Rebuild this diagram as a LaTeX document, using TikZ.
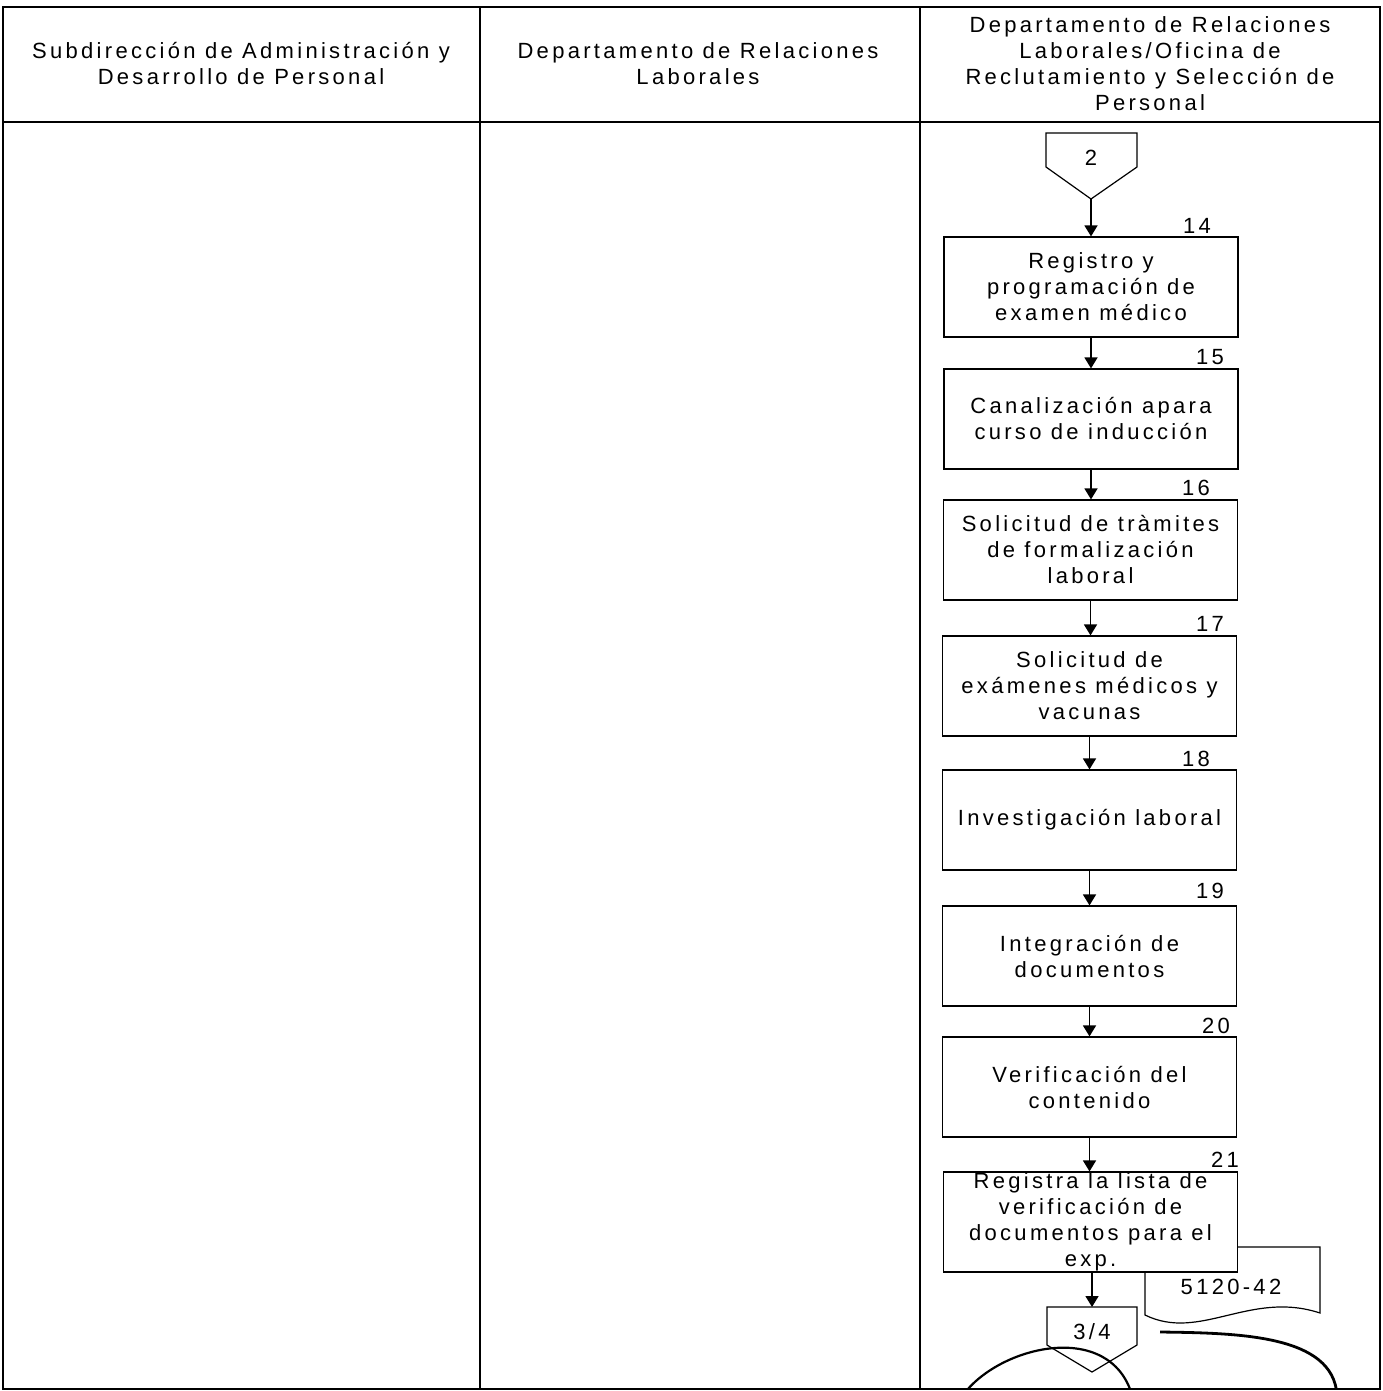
\documentclass[tikz,border=0pt]{standalone}
\usepackage{fontspec}
\setmainfont{Liberation Sans}[LetterSpace=15]
\usetikzlibrary{arrows.meta}
\begin{document}
\begin{tikzpicture}[x=0.5pt,y=-0.5pt,
  txt/.style={font=\fontsize{11}{13}\selectfont, align=center, inner sep=0pt},
  stepbox/.style={draw, line width=0.6pt, fill=white, minimum width=147pt, minimum height=50pt, inner sep=0pt,
    font=\fontsize{11}{13}\selectfont, align=center},
  num/.style={font=\fontsize{11}{13}\selectfont, inner sep=0pt},
  flow/.style={line width=0.8pt, -{Triangle[width=6.5pt,length=5.5pt]}},
  frame/.style={line width=0.7pt},
  hand/.style={line width=1.1pt}]
\useasboundingbox (0,0) rectangle (1382,1391);
% frame and lanes
\draw[frame] (3,7) rectangle (1380,1389);
\draw[frame] (3,122) -- (1380,122);
\draw[frame] (480,7) -- (480,1389);
\draw[frame] (920,7) -- (920,1389);
\node[txt] (h1) at (241,63.5) {Subdirección de Administración y\\Desarrollo de Personal};
\node[txt] (h2) at (698,63.5) {Departamento de Relaciones\\Laborales};
\node[txt] (h3) at (1150,63.5) {Departamento de Relaciones\\Laborales/Oficina de\\Reclutamiento y Selección de\\Personal};
% connector 2
\draw[line width=0.6pt] (1046,133) -- (1137,133) -- (1137,167) -- (1091,199) -- (1046,167) -- cycle;
\node[num] (c2) at (1091,158) {2};
\coordinate (c2tip) at (1091,199);
% document behind box 21
\draw[line width=0.6pt, fill=white] (1145,1247) -- (1320,1247) -- (1320,1313)
  .. controls (1250,1290) and (1200,1342) .. (1145,1315) -- cycle;
\node[num] (doc) at (1231,1287) {5120-42};
% boxes
\node[stepbox] (b14) at (1091,287) {Registro y\\programación de\\examen médico};
\node[stepbox] (b15) at (1091,419) {Canalización apara\\curso de inducción};
\node[stepbox] (b16) at (1090.5,550) {Solicitud de tràmites\\de formalización\\laboral};
\node[stepbox] (b17) at (1089.5,686) {Solicitud de\\exámenes médicos y\\vacunas};
\node[stepbox] (b18) at (1089.5,820) {Investigación laboral};
\node[stepbox] (b19) at (1089.5,956) {Integración de\\documentos};
\node[stepbox] (b20) at (1089.5,1087) {Verificación del\\contenido};
\node[stepbox] (b21) at (1090.5,1222) {Registra la lista de\\verificación de\\documentos para el\\exp.};
% numbers
\node[num] (n14) at (1197,226) {14};
\node[num] (n15) at (1210,357) {15};
\node[num] (n16) at (1196,488) {16};
\node[num] (n17) at (1210,624) {17};
\node[num] (n18) at (1196,759) {18};
\node[num] (n19) at (1210,891) {19};
\node[num] (n20) at (1216,1026) {20};
\node[num] (n21) at (1225,1160) {21};
% connector 3/4
\draw[line width=0.6pt, fill=white] (1047,1307) -- (1137,1307) -- (1137,1345) -- (1092,1372) -- (1047,1345) -- cycle;
\node[num] (c34) at (1092,1332) {3/4};
\coordinate (c34top) at (1092,1307);
% flows
\draw[flow] (c2tip) -- (b14.north);
\draw[flow] (b14.south) -- (b15.north);
\draw[flow] (b15.south) -- (b16.north -| b15.south);
\draw[flow] (b16.south) -- (b17.north -| b16.south);
\draw[flow] (b17.south) -- (b18.north);
\draw[flow] (b18.south) -- (b19.north);
\draw[flow] (b19.south) -- (b20.north);
\draw[flow] (b20.south) -- (b21.north -| b20.south);
\draw[flow] (b21.south -| c34top) -- (c34top);
% handwritten marks
\begin{scope}
\clip (3,7) rectangle (1380,1389);
\draw[hand] (963,1395) .. controls (1000,1345) and (1110,1320) .. (1132,1395);
\draw[hand, line width=1.4pt] (1160,1332) .. controls (1240,1333) and (1333,1335) .. (1337,1395);
\end{scope}
\end{tikzpicture}
\end{document}
